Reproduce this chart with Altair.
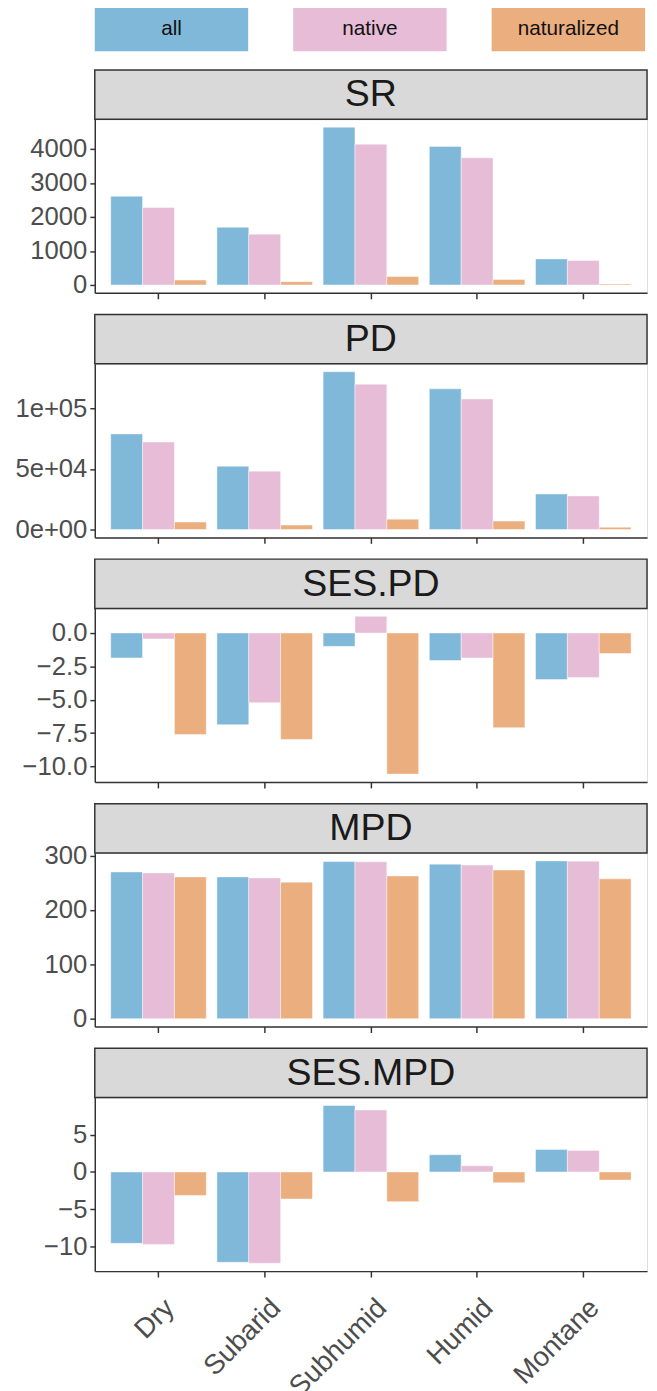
import altair as alt
import pandas as pd

FONT = "Liberation Sans"

zones = ["Dry", "Subarid", "Subhumid", "Humid", "Montane"]
groups = ["all", "native", "naturalized"]
colors = ["#80b8da", "#e6bcd6", "#ebae7e"]

# SR
sr_all = [2610, 1698, 4643, 4077, 767]
sr_native = [2283, 1496, 4144, 3741, 720]
sr_nat = [144, 96, 249, 163, 29]
sr_ticks = [0, 1000, 2000, 3000, 4000]
sr_labels = ["0", "1000", "2000", "3000", "4000"]

# PD
pd_all = [79100, 52400, 130500, 116400, 29400]
pd_native = [72400, 48300, 120200, 108000, 27800]
pd_nat = [6200, 3700, 8600, 7000, 1900]
pd_ticks = [0, 50000, 100000]
pd_labels = ["0e+00", "5e+04", "1e+05"]

# SES.PD
sespd_all = [-1.87, -6.87, -1.0, -2.06, -3.49]
sespd_native = [-0.44, -5.22, 1.25, -1.87, -3.34]
sespd_nat = [-7.6, -7.97, -10.57, -7.09, -1.54]
sespd_ticks = [-10, -7.5, -5, -2.5, 0]
sespd_labels = ["\u221210.0", "\u22127.5", "\u22125.0", "\u22122.5", "0.0"]

# MPD
mpd_all = [270.2, 261.1, 289.3, 284.6, 290.6]
mpd_native = [268.4, 259.3, 289.0, 282.8, 290.0]
mpd_nat = [261.1, 251.4, 262.9, 273.8, 257.5]
mpd_ticks = [0, 100, 200, 300]
mpd_labels = ["0", "100", "200", "300"]

# SES.MPD
sesmpd_all = [-9.55, -12.08, 8.9, 2.31, 3.01]
sesmpd_native = [-9.69, -12.21, 8.29, 0.83, 2.88]
sesmpd_nat = [-3.14, -3.62, -3.97, -1.44, -1.09]
sesmpd_ticks = [-10, -5, 0, 5]
sesmpd_labels = ["\u221210", "\u22125", "0", "5"]

W = 560
H = 176
STRIP = 50
EXT = 87
AXC = "#333333"
LABC = "#4d4d4d"


def label_expr(ticks, labels):
    expr = "''"
    for t, l in reversed(list(zip(ticks, labels))):
        expr = f"datum.value == {t} ? '{l}' : ({expr})"
    return expr


def panel(name, vals, ticks, labels, bottom=False):
    rows = []
    for g, arr in zip(groups, vals):
        for z, v in zip(zones, arr):
            rows.append({"zone": z, "group": g, "value": v})
    df = pd.DataFrame(rows)
    lo = min(0.0, float(df.value.min()))
    hi = max(0.0, float(df.value.max()))
    pad = 0.05 * (hi - lo)

    if bottom:
        xaxis = alt.Axis(title=None, labels=True, labelAngle=315, labelAlign="right",
                         labelBaseline="top", labelFontSize=28, labelColor=LABC,
                         labelFont=FONT, labelPadding=17, labelOffset=2, tickSize=6,
                         tickColor=AXC, tickWidth=1.5, domainColor=AXC, domainWidth=1.5)
    else:
        xaxis = alt.Axis(title=None, labels=False, tickSize=6, tickColor=AXC,
                         tickWidth=1.5, domainColor=AXC, domainWidth=1.5)

    yaxis = alt.Axis(title=None, values=ticks, labelExpr=label_expr(ticks, labels),
                     grid=False, labelFontSize=26, labelColor=LABC, labelFont=FONT,
                     labelPadding=3, tickSize=5, tickColor=AXC, tickWidth=1.5,
                     domainColor=AXC, domainWidth=1.5, minExtent=EXT, maxExtent=EXT)

    bars = alt.Chart(df).mark_bar(stroke="white", strokeOpacity=0.45, strokeWidth=1).encode(
        x=alt.X("zone:N", sort=zones,
                scale=alt.Scale(paddingInner=0.1, paddingOuter=0.15), axis=xaxis),
        xOffset=alt.XOffset("group:N", sort=groups,
                            scale=alt.Scale(paddingInner=0, paddingOuter=0)),
        y=alt.Y("value:Q", scale=alt.Scale(domain=[lo - pad, hi + pad], nice=False, zero=False),
                axis=yaxis),
        color=alt.Color("group:N", scale=alt.Scale(domain=groups, range=colors), legend=None),
    )
    sdata = alt.Data(values=[{"t": name}])
    strip = alt.Chart(sdata).mark_rect(fill="#d9d9d9", stroke=AXC, strokeWidth=1.5).encode(
        x=alt.value(0), x2=alt.value(W), y=alt.value(-STRIP), y2=alt.value(0)
    )
    text = alt.Chart(sdata).mark_text(fontSize=38, color="#1a1a1a", font=FONT,
                                      baseline="middle", align="center").encode(
        x=alt.value(W / 2), y=alt.value(-STRIP / 2 + 1), text="t:N"
    )
    return alt.layer(bars, strip, text).properties(width=W, height=H)


leg_df = pd.DataFrame({"group": groups})
LW = 558
leg_x = alt.X("group:N", sort=groups, scale=alt.Scale(paddingInner=0.227, paddingOuter=0), axis=None)
legend_rect = alt.Chart(leg_df).mark_rect().encode(
    x=leg_x, y=alt.value(0), y2=alt.value(45),
    color=alt.Color("group:N", scale=alt.Scale(domain=groups, range=colors), legend=None),
)
legend_text = alt.Chart(leg_df).mark_text(fontSize=21, color="#111111", font=FONT,
                                          baseline="middle").encode(
    x=leg_x, y=alt.value(23), text="group:N"
)
legend = alt.layer(legend_rect, legend_text).properties(
    width=LW, height=50, view=alt.ViewConfig(stroke="transparent", strokeWidth=0)
)

panels = [
    panel("SR", [sr_all, sr_native, sr_nat], sr_ticks, sr_labels),
    panel("PD", [pd_all, pd_native, pd_nat], pd_ticks, pd_labels),
    panel("SES.PD", [sespd_all, sespd_native, sespd_nat], sespd_ticks, sespd_labels),
    panel("MPD", [mpd_all, mpd_native, mpd_nat], mpd_ticks, mpd_labels),
    panel("SES.MPD", [sesmpd_all, sesmpd_native, sesmpd_nat], sesmpd_ticks, sesmpd_labels, bottom=True),
]

chart = alt.vconcat(legend, *panels, spacing=12).properties(
    padding={"left": 0, "top": -11, "right": 0, "bottom": 0}
).configure_view(stroke="transparent", strokeWidth=0).configure(font=FONT)

chart.save("out.html", embed_options={"renderer": "svg", "actions": False})
